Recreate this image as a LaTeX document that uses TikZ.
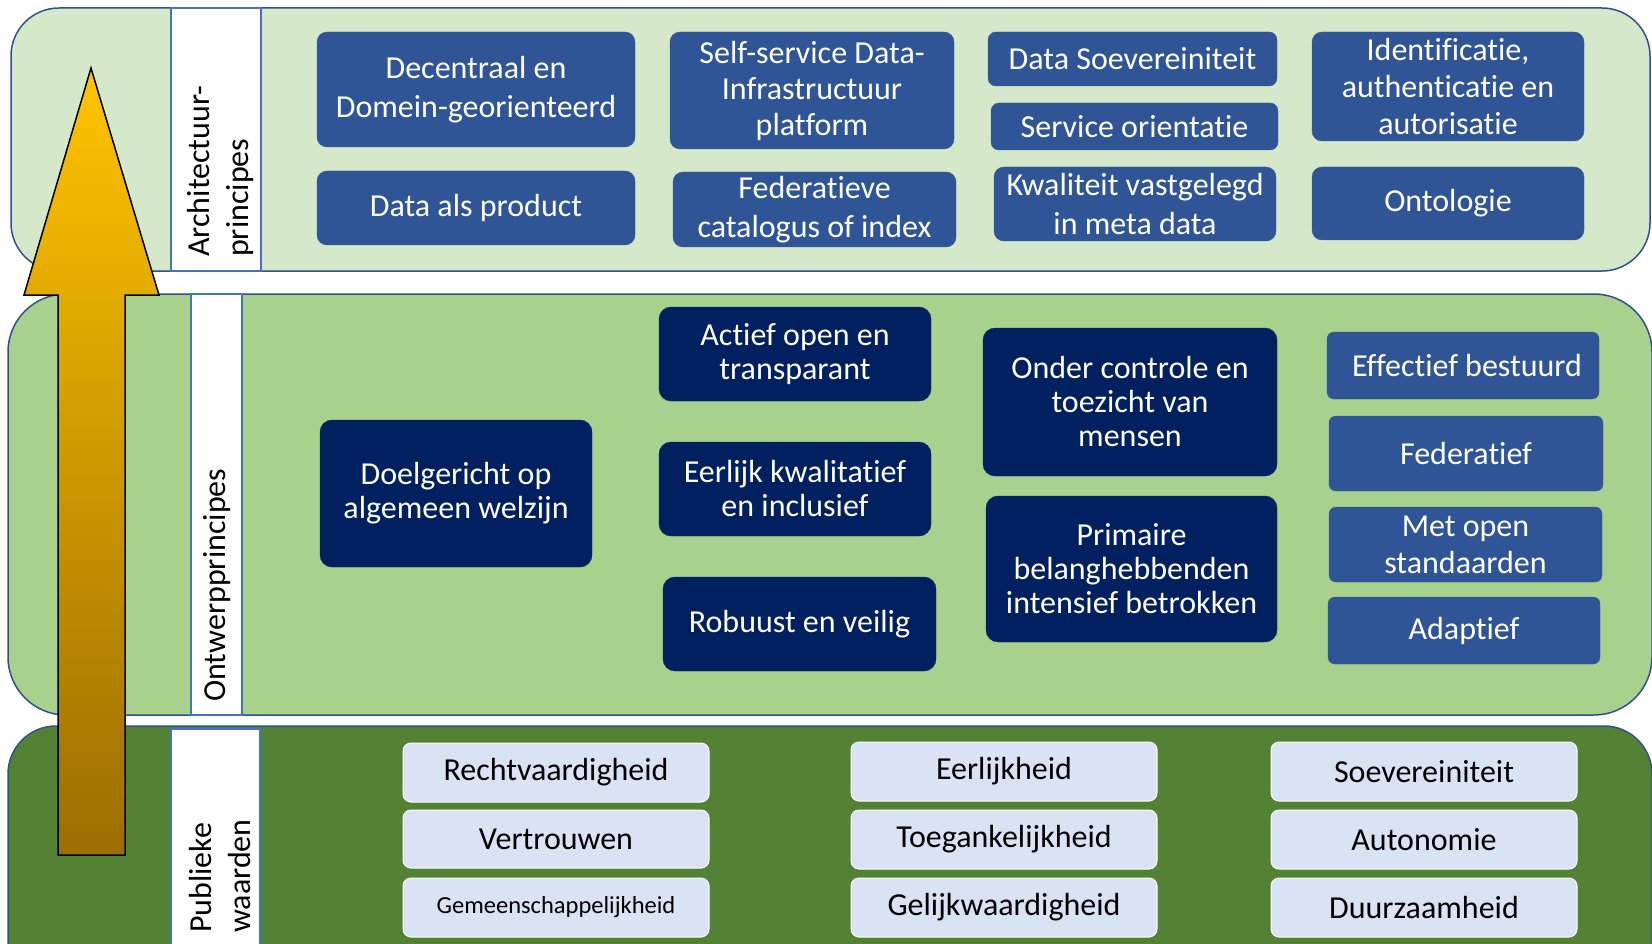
\documentclass[tikz,border=0pt]{standalone}
\usepackage{fontspec}
\setmainfont{Carlito}[Ligatures=NoCommon]
\definecolor{topg}{RGB}{213,232,202}
\definecolor{midg}{RGB}{169,209,142}
\definecolor{botg}{RGB}{84,130,53}
\definecolor{borderc}{RGB}{47,82,143}
\definecolor{lblc}{RGB}{68,114,196}
\definecolor{boxblue}{RGB}{47,85,151}
\definecolor{navy}{RGB}{0,32,96}
\definecolor{valc}{RGB}{218,227,243}
\definecolor{arrtop}{RGB}{255,196,0}
\definecolor{arrbot}{RGB}{156,110,0}
\tikzset{
 panel/.style={draw=borderc, line width=1.5pt, inner sep=0pt},
 lbl/.style={draw=lblc, fill=white, line width=1.2pt, inner sep=0pt},
 ltext/.style={rotate=90, anchor=west, align=left, inner sep=0pt, font=\fontsize{32}{39}\selectfont},
 tbox/.style={fill=boxblue, draw=boxblue, rounded corners=10pt, text=white, align=center, inner sep=0pt, font=\fontsize{32}{39}\selectfont},
 dbox/.style={fill=navy, draw=navy, rounded corners=12pt, text=white, align=center, inner sep=0pt, font=\fontsize{32}{34}\selectfont},
 vbox/.style={fill=valc, draw=white, line width=1pt, rounded corners=8pt, text=black, align=center, inner sep=0pt, font=\fontsize{32}{39}\selectfont},
}
\newcommand\mybox[7]{\node[#2, minimum width={#5-#3}, minimum height={#6-#4}] (#1) at ({(#3+#5)/2},{(#4+#6)/2}) {#7};}
\begin{document}
\begin{tikzpicture}[x=1pt,y=-1pt]
\useasboundingbox (0,0) rectangle (1652,944);
\clip (0,0) rectangle (1652,944);
% panels
\mybox{p1}{panel, fill=topg, rounded corners=48pt}{11}{8}{1650}{271}{}
\mybox{p2}{panel, fill=midg, rounded corners=58pt}{8}{294}{1652}{715}{}
\mybox{p3}{panel, fill=botg, rounded corners=48pt}{8}{726}{1652}{1000}{}
% label boxes
\mybox{l1}{lbl}{171}{8}{261}{271}{}
\mybox{l2}{lbl}{191}{294}{242}{715}{}
\mybox{l3}{lbl}{171}{729}{260}{1000}{}
\node[ltext] (t1) at (220,257) {Architectuur-\\principes};
\node[ltext] (t2) at (217,702) {Ontwerpprincipes};
\node[ltext] (t3) at (220,933) {Publieke\\waarden};
% architecture principles
\mybox{a1}{tbox}{317}{32}{635}{147}{Decentraal en\\Domein-georienteerd}
\mybox{a2}{tbox}{317}{171}{635}{245}{Data als product}
\mybox{a3}{tbox, font=\fontsize{32}{36}\selectfont}{670}{32}{954}{149}{Self-service Data-\\Infrastructuur\\platform}
\mybox{a4}{tbox}{673}{172}{956}{247}{Federatieve\\catalogus of index}
\mybox{a5}{tbox, rounded corners=8pt}{988}{32}{1277}{86}{Data Soevereiniteit}
\mybox{a6}{tbox, rounded corners=8pt}{991}{103}{1278}{150}{Service orientatie}
\mybox{a7}{tbox}{994}{167}{1276}{241}{Kwaliteit vastgelegd\\in meta data}
\mybox{a8}{tbox, font=\fontsize{32}{37}\selectfont}{1312}{32}{1584}{141}{Identificatie,\\authenticatie en\\autorisatie}
\mybox{a9}{tbox}{1312}{167}{1584}{240}{Ontologie}
% design principles
\mybox{b1}{dbox}{320}{420}{592}{567}{Doelgericht op\\algemeen welzijn}
\mybox{b2}{dbox}{659}{307}{931}{401}{Actief open en\\transparant}
\mybox{b3}{dbox}{659}{442}{931}{536}{Eerlijk kwalitatief\\en inclusief}
\mybox{b4}{dbox}{663}{577}{936}{671}{Robuust en veilig}
\mybox{b5}{dbox}{983}{328}{1277}{476}{Onder controle en\\toezicht van\\mensen}
\mybox{b6}{dbox}{986}{496}{1277}{642}{Primaire\\belanghebbenden\\intensief betrokken}
\mybox{c1}{tbox, rounded corners=7pt}{1327}{332}{1599}{399}{\hspace*{8pt}Effectief bestuurd}
\mybox{c2}{tbox, rounded corners=7pt}{1329}{416}{1603}{491}{Federatief}
\mybox{c3}{tbox, rounded corners=7pt, font=\fontsize{32}{37}\selectfont}{1329}{507}{1602}{582}{Met open\\standaarden}
\mybox{c4}{tbox, rounded corners=7pt}{1328}{597}{1600}{664}{Adaptief}
% public values
\mybox{d1}{vbox}{403}{743}{709}{802}{Rechtvaardigheid}
\mybox{d2}{vbox}{403}{810}{709}{868}{Vertrouwen}
\mybox{d3}{vbox, font=\fontsize{24.5}{29}\selectfont}{403}{878}{709}{937}{Gemeenschappelijkheid}
\mybox{e1}{vbox}{851}{742}{1157}{801}{Eerlijkheid}
\mybox{e2}{vbox}{851}{810}{1157}{869}{Toegankelijkheid}
\mybox{e3}{vbox}{851}{878}{1157}{937}{Gelijkwaardigheid}
\mybox{f1}{vbox}{1271}{742}{1577}{801}{Soevereiniteit}
\mybox{f2}{vbox}{1271}{810}{1577}{869}{Autonomie}
\mybox{f3}{vbox}{1271}{878}{1577}{937}{Duurzaamheid}
% big arrow
\shade[top color=arrtop, bottom color=arrbot] (58,855) -- (58,295) -- (24,295) -- (91,68) -- (159,295) -- (125,295) -- (125,855) -- cycle;
\draw[black, line width=1.5pt, line join=miter] (58,855) -- (58,295) -- (24,295) -- (91,68) -- (159,295) -- (125,295) -- (125,855) -- cycle;
\end{tikzpicture}
\end{document}
